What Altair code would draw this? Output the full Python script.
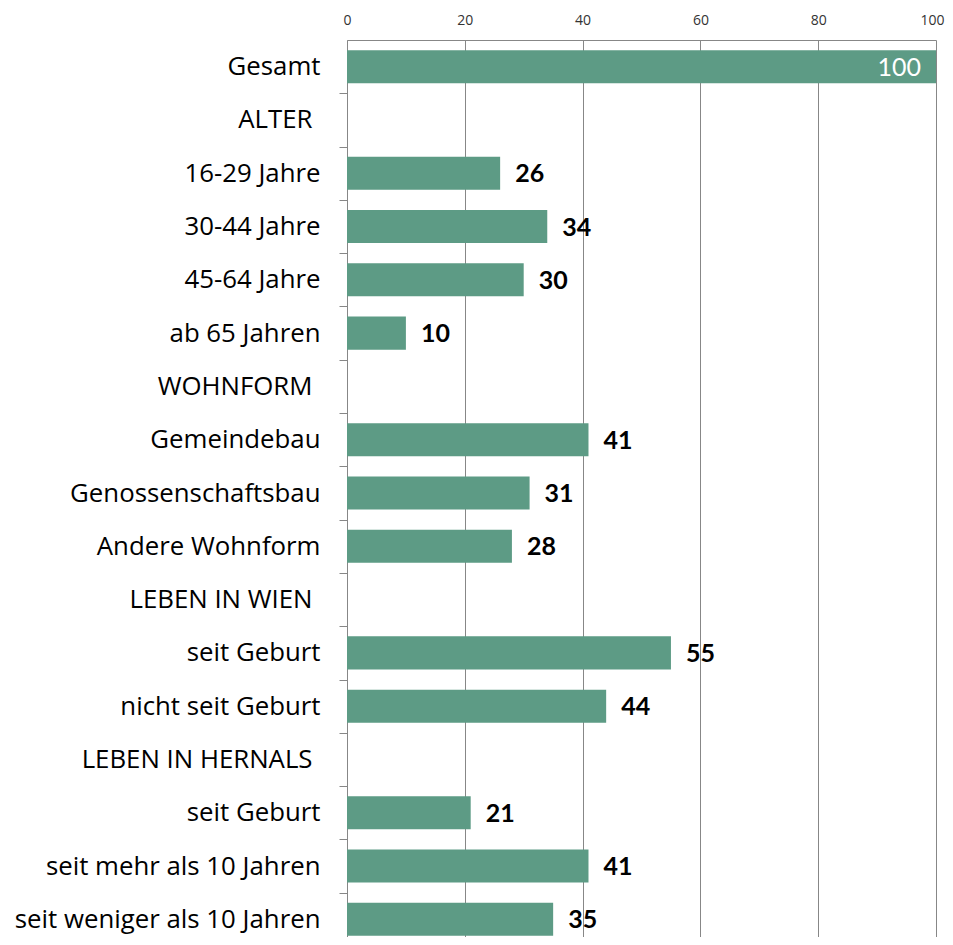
import json
import altair as alt
import pandas as pd

labels = ["Gesamt", "ALTER", "16-29 Jahre", "30-44 Jahre", "45-64 Jahre", "ab 65 Jahren",
          "WOHNFORM", "Gemeindebau", "Genossenschaftsbau", "Andere Wohnform",
          "LEBEN IN WIEN", "seit Geburt", "nicht seit Geburt",
          "LEBEN IN HERNALS", "seit Geburt", "seit mehr als 10 Jahren", "seit weniger als 10 Jahren"]
values = [100, None, 26, 34, 30, 10, None, 41, 31, 28, None, 55, 44, None, 21, 41, 35]
headers = ["ALTER", "WOHNFORM", "LEBEN IN WIEN", "LEBEN IN HERNALS"]
x_ticks = [0, 20, 40, 60, 80, 100]

rows = list(range(len(labels)))
header_rows = [i for i, l in enumerate(labels) if l in headers]

df = pd.DataFrame({"row": rows, "label": labels, "value": values})

STEP_RANGE = 906
H = 897
W = 589
step = STEP_RANGE / len(labels)

BAR = "#5d9b85"
FONT = "Open Sans"
NUMFONT = "Lato"

header_test = " || ".join(f"datum.value == {i}" for i in header_rows)

yenc = alt.Y(
    "row:O",
    scale=alt.Scale(domain=rows, paddingInner=0.38, paddingOuter=0.19, range=[0, STEP_RANGE]),
    axis=alt.Axis(
        title=None,
        labelExpr=json.dumps(labels, ensure_ascii=False) + "[datum.value]",
        labelFont=FONT, labelFontSize=25.8, labelColor="#000000",
        labelPadding={"condition": {"test": header_test, "value": 27}, "value": 19},
        tickSize=8, tickColor="#878787", domainColor="#878787",
        tickOffset=step / 2, labelOffset=-step / 2, labelLimit=400,
        grid=False,
    ),
)

xenc = alt.X(
    "value:Q",
    scale=alt.Scale(domain=[0, 100], nice=False),
    axis=alt.Axis(
        orient="top", title=None, values=x_ticks, ticks=False, labelFlush=False,
        labelOffset={"condition": {"test": "datum.value == 100", "value": -4}, "value": 0},
        labelFont=FONT, labelFontSize=14, labelColor="#333333", labelPadding=13,
        grid=True, gridColor="#878787", gridWidth=1, domainColor="#878787",
    ),
)

base = alt.Chart(df)

bars = base.mark_bar(color=BAR).encode(x=xenc, y=yenc)

txt = base.transform_filter("datum.value != null && datum.row > 0").mark_text(
    align="left", baseline="middle", dx=15, dy=1, font=NUMFONT, fontSize=25, fontWeight="bold", color="#000000"
).encode(x="value:Q", y="row:O", text="value:Q")

txt_in = base.transform_filter("datum.row == 0").mark_text(
    align="right", baseline="middle", dx=-15, dy=1, font=NUMFONT, fontSize=25, fontWeight="normal", color="#ffffff"
).encode(x="value:Q", y="row:O", text="value:Q")

chart = (bars + txt + txt_in).properties(
    width=W, height=H,
    autosize=alt.AutoSizeParams(type="none"),
    padding={"left": 339, "top": 32, "right": 9, "bottom": 0},
).configure_view(strokeWidth=0)

chart.save("out.html", embed_options={"renderer": "svg", "actions": False})
